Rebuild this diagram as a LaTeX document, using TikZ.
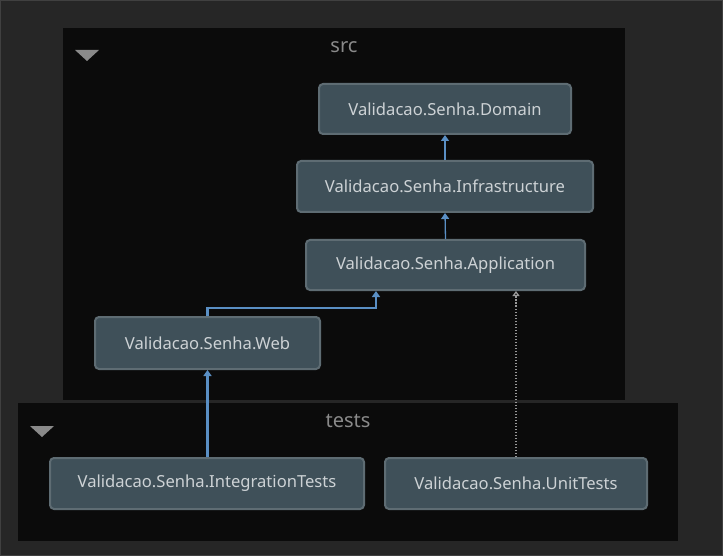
\documentclass[tikz,border=0pt]{standalone}
\usepackage{fontspec}
\setmainfont{Noto Sans}
\usetikzlibrary{arrows.meta}
\definecolor{bgc}{HTML}{262626}
\definecolor{grpc}{HTML}{0B0B0B}
\definecolor{nodefill}{HTML}{3F5059}
\definecolor{nodeborder}{HTML}{5E6C73}
\definecolor{nodetext}{HTML}{CDD2D5}
\definecolor{titlec}{HTML}{8A8A8A}
\definecolor{edgeblue}{HTML}{5A8FC4}
\definecolor{dotc}{HTML}{9A9A9A}
\tikzset{
  proj/.style={draw=nodeborder, line width=2pt, fill=nodefill, rounded corners=4pt,
    text=nodetext, font=\fontsize{16.6}{18}\selectfont, anchor=center, inner sep=0pt},
  dep/.style={draw=edgeblue, line width=2.4pt, -{Triangle[length=6pt,width=8pt]}},
  depthin/.style={draw=edgeblue, line width=1.3pt, -{Triangle[length=6pt,width=8pt]}},
  dotdep/.style={draw=dotc, line width=1.3pt, dash pattern=on 1.5pt off 1.5pt, -{Triangle[open,length=5pt,width=7pt]}},
  grptitle/.style={text=titlec, font=\fontsize{20}{22}\selectfont},
  collapse/.style={fill=titlec, draw=none}
}
\begin{document}
\begin{tikzpicture}[x=1pt,y=-1pt]
\useasboundingbox (0,0) rectangle (723,556);
\fill[bgc] (0,0) rectangle (723,556);
\draw[color=black!75!white, line width=1pt] (0.5,0.5) rectangle (722.5,555.5);
% groups
\fill[grpc] (63,28) rectangle (625,400);
\fill[black!85!white] (18,400) rectangle (678,403);
\fill[grpc] (18,403) rectangle (678,541);
\node[grptitle] (srct) at (344,47) {src};
\node[grptitle] (testst) at (348,421) {tests};
\fill[collapse] (75,50) -- (99,50) -- (87,61) -- cycle;
\fill[collapse] (30,426) -- (54,426) -- (42,437) -- cycle;
% nodes
\node[proj, minimum width=252pt, minimum height=50pt] (dom) at (445,109) {Validacao.Senha.Domain};
\node[proj, minimum width=296pt, minimum height=51pt] (inf) at (445,186.5) {Validacao.Senha.Infrastructure};
\node[proj, minimum width=279pt, minimum height=50pt] (app) at (445.5,265) {Validacao.Senha.Application};
\node[proj, minimum width=225pt, minimum height=52pt] (web) at (207.5,343) {Validacao.Senha.Web};
\node[proj, minimum width=314pt, minimum height=51pt] (itst) at (207,483.5) {Validacao.Senha.IntegrationTests};
\node[proj, minimum width=262pt, minimum height=51pt] (utst) at (516,483.5) {Validacao.Senha.UnitTests};
% edges
\draw[dep] (inf.north) -- (dom.south);
\draw[depthin] (app.north) -- (inf.south);
\draw[dep] (web.north) -- ++(0,-8) -| ([xshift=-69.5pt]app.south);
\draw[dep] (itst.north -| web.south) -- (web.south);
\draw[dotdep] (utst.north) -- (utst.north |- app.south);
\end{tikzpicture}
\end{document}
